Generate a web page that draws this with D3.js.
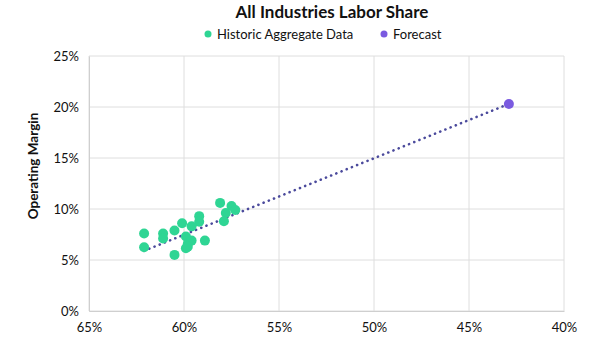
<!DOCTYPE html>
<html>
<head>
<meta charset="utf-8">
<script src="https://cdn.jsdelivr.net/npm/d3@7"></script>
<style>
    body { margin: 0; background: #fff; }
    text { font-family: Lato, "Open Sans", sans-serif; fill: #111; }
</style>
</head>
<body>
<div id="chart"></div>
<script>
// Labor share (%) vs operating margin (%)
var historicX = [58.1, 57.5, 57.3, 57.8, 57.9, 59.2, 59.2, 59.6, 60.1, 60.5, 61.1, 61.1, 62.1, 62.1, 59.9, 59.8, 59.6, 59.9, 59.8, 58.9, 60.5];
var historicY = [10.6, 10.3, 9.9, 9.6, 8.8, 9.3, 8.75, 8.3, 8.6, 7.9, 7.6, 7.1, 7.6, 6.25, 7.3, 6.6, 6.9, 6.15, 6.3, 6.9, 5.5];
var forecastX = [42.9];
var forecastY = [20.3];
var trendX = [62.1, 42.9];
var trendY = [5.9, 20.3];
var xTicks = [65, 60, 55, 50, 45, 40];
var yTicks = [0, 5, 10, 15, 20, 25];

var green = "#2fd594", purple = "#7a5ae0";

var margin = { top: 56, right: 36, bottom: 38, left: 89 },
    width = 600, height = 349,
    innerW = width - margin.left - margin.right,
    innerH = height - margin.top - margin.bottom;

var svg = d3.select("#chart").append("svg")
    .attr("width", width)
    .attr("height", height);

var g = svg.append("g")
    .attr("transform", "translate(" + margin.left + "," + margin.top + ")");

var x = d3.scaleLinear().domain([65, 40]).range([0, innerW]);
var y = d3.scaleLinear().domain([0, 25]).range([innerH, 0]);

// grid
g.selectAll(".vgrid").data(xTicks).enter().append("line")
    .attr("x1", function (d) { return x(d); })
    .attr("x2", function (d) { return x(d); })
    .attr("y1", 0).attr("y2", innerH)
    .attr("stroke", "#dedede");
g.selectAll(".hgrid").data(yTicks).enter().append("line")
    .attr("x1", 0).attr("x2", innerW)
    .attr("y1", function (d) { return y(d); })
    .attr("y2", function (d) { return y(d); })
    .attr("stroke", "#dedede");

var xAxis = g.append("g")
    .attr("transform", "translate(0," + innerH + ")")
    .call(d3.axisBottom(x).tickValues(xTicks).tickSize(0).tickPadding(12)
        .tickFormat(function (d) { return d + "%"; }));
var yAxis = g.append("g")
    .call(d3.axisLeft(y).tickValues(yTicks).tickSize(0).tickPadding(10)
        .tickFormat(function (d) { return d + "%"; }));
[xAxis, yAxis].forEach(function (a) {
    a.select(".domain").attr("stroke", "#cfcfcf");
    a.selectAll("text").style("font-size", "13px").style("font-family", "Lato, sans-serif").attr("fill", "#111");
});

// trend line
var trend = trendX.map(function (v, i) { return [v, trendY[i]]; });
g.append("path")
    .attr("d", d3.line().x(function (d) { return x(d[0]); }).y(function (d) { return y(d[1]); })(trend))
    .attr("stroke", "#4b4a9c")
    .attr("stroke-width", 2.6)
    .attr("stroke-dasharray", "0.1,5.5")
    .attr("stroke-linecap", "round")
    .attr("fill", "none");

g.selectAll(".hist").data(historicX).enter().append("circle")
    .attr("cx", function (d) { return x(d); })
    .attr("cy", function (d, i) { return y(historicY[i]); })
    .attr("r", 5)
    .attr("fill", green);

g.selectAll(".fc").data(forecastX).enter().append("circle")
    .attr("cx", function (d) { return x(d); })
    .attr("cy", function (d, i) { return y(forecastY[i]); })
    .attr("r", 5)
    .attr("fill", purple);

// title + legend
svg.append("text")
    .attr("x", 332).attr("y", 18)
    .attr("text-anchor", "middle")
    .style("font-size", "17px").style("font-weight", "bold")
    .text("All Industries Labor Share");

var legend = [
    { label: "Historic Aggregate Data", color: green, x: 208 },
    { label: "Forecast", color: purple, x: 384 }
];
legend.forEach(function (l) {
    svg.append("circle").attr("cx", l.x).attr("cy", 34).attr("r", 3.5).attr("fill", l.color);
    svg.append("text").attr("x", l.x + 9).attr("y", 39)
        .style("font-size", "13px").text(l.label);
});

svg.append("text")
    .attr("transform", "translate(38,166) rotate(-90)")
    .attr("text-anchor", "middle")
    .style("font-size", "13.5px").style("font-weight", "bold")
    .text("Operating Margin");
</script>
</body>
</html>
